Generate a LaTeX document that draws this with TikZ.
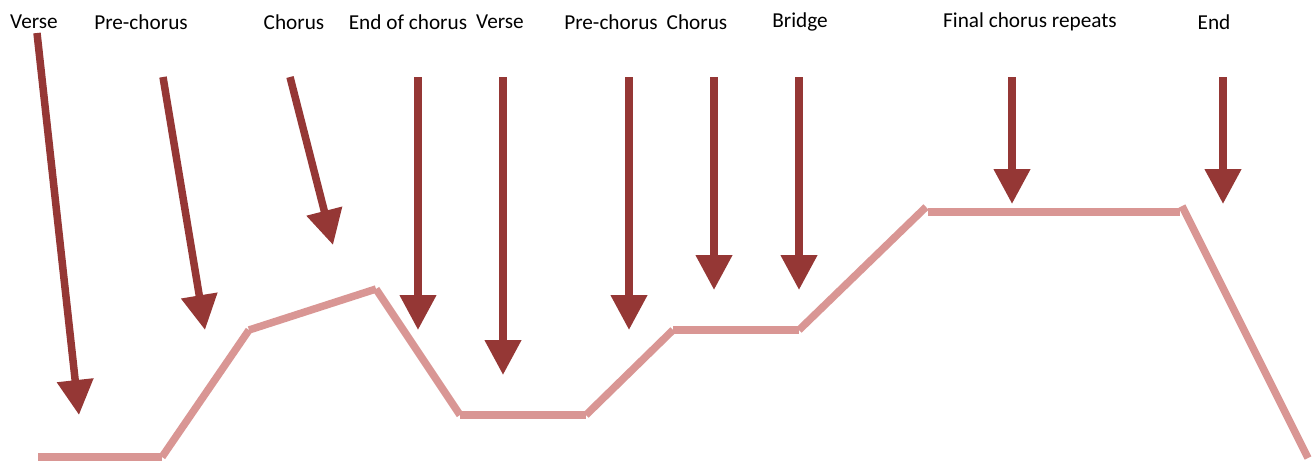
\documentclass[tikz,border=0pt]{standalone}
\usepackage{fontspec}
\setmainfont{Carlito}
\usetikzlibrary{arrows.meta}

\definecolor{arrowred}{HTML}{953735}
\definecolor{linepink}{HTML}{D99694}

\begin{document}
\begin{tikzpicture}[
  x=0.02cm, y=-0.02cm,
  font=\fontsize{12.1}{14}\selectfont,
  lbl/.style={inner sep=0pt, anchor=center},
  arr/.style={-{Triangle[length=0.7cm,width=0.7cm]}, line width=0.15cm, arrowred},
  seg/.style={line width=0.15cm, linepink, line cap=butt}
]
\useasboundingbox (0,0) rectangle (1314,460);

% labels
\node[lbl] (verseA) at (34,22) {Verse};
\node[lbl] (preA) at (141,22) {Pre-chorus};
\node[lbl] (chorusA) at (294,22) {Chorus};
\node[lbl] (endchorus) at (408,22) {End of chorus};
\node[lbl] (verseB) at (500,22) {Verse};
\node[lbl] (preB) at (611,22) {Pre-chorus};
\node[lbl] (chorusB) at (697,22) {Chorus};
\node[lbl] (bridge) at (800,22) {Bridge};
\node[lbl] (final) at (1030,22) {Final chorus repeats};
\node[lbl] (theend) at (1214,22) {End};

% arrow ends
\coordinate (sVerseA) at (37,33);    \coordinate (tVerseA) at (79,415);
\coordinate (sPreA) at (163,77);     \coordinate (tPreA) at (205,330);
\coordinate (sChorusA) at (290,77);  \coordinate (tChorusA) at (333,245);
\coordinate (sEndChorus) at (418,77);\coordinate (tEndChorus) at (418,330);
\coordinate (sVerseB) at (503,77);   \coordinate (tVerseB) at (503,375);
\coordinate (sPreB) at (629,77);     \coordinate (tPreB) at (629,330);
\coordinate (sChorusB) at (714,77);  \coordinate (tChorusB) at (714,290);
\coordinate (sBridge) at (799,77);   \coordinate (tBridge) at (799,290);
\coordinate (sFinal) at (1012,77);   \coordinate (tFinal) at (1012,204);
\coordinate (sEnd) at (1223,77);     \coordinate (tEnd) at (1223,204);

% intensity line
\coordinate (p0) at (38,457);
\coordinate (p1) at (162,457);
\coordinate (p2) at (249,330);
\coordinate (p3) at (376,289);
\coordinate (p4) at (460,415);
\coordinate (p5) at (586,415);
\coordinate (p6) at (673,330);
\coordinate (p7) at (799,330);
\coordinate (p8) at (926,207);
\coordinate (p9) at (928,212);
\coordinate (p10) at (1180,212);
\coordinate (p11) at (1182,206);
\coordinate (p12) at (1308,458);

\foreach \a/\b in {p0/p1,p1/p2,p2/p3,p3/p4,p4/p5,p5/p6,p6/p7,p7/p8,p9/p10,p11/p12}
  \draw[seg] (\a) -- (\b);

% arrows
\foreach \n in {VerseA,PreA,ChorusA,EndChorus,VerseB,PreB,ChorusB,Bridge,Final,End}
  \draw[arr] (s\n) -- (t\n);

\end{tikzpicture}
\end{document}
